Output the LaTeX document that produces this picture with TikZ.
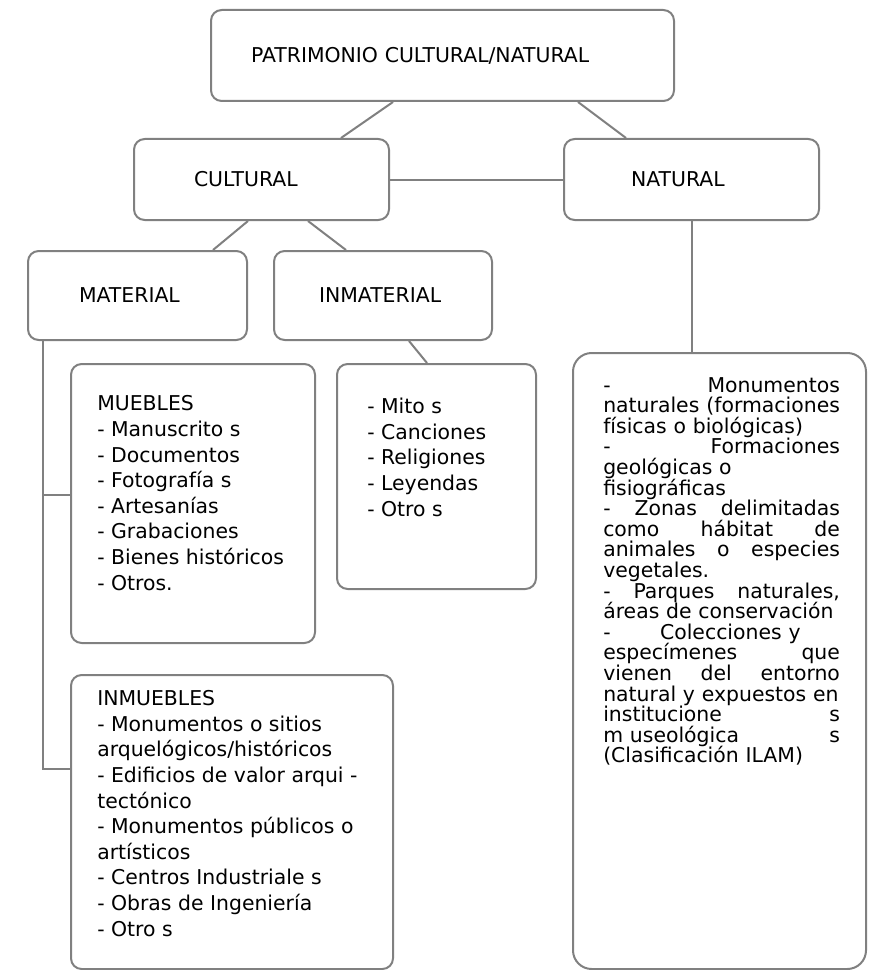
\documentclass[tikz,border=0pt]{standalone}
\usepackage{fontspec}
\setmainfont{DejaVu Sans}
\usepackage{tikz}
\usetikzlibrary{positioning,calc}
\definecolor{lineagris}{HTML}{808080}
\newcommand{\corrida}[2][177.5pt]{\makebox[#1][l]{#2}}
\newcommand{\letraNat}{\fontsize{15.3pt}{15.45pt}\selectfont\lineskiplimit=-5pt\relax}

\begin{document}
\begin{tikzpicture}[
    x=0.75pt, y=-0.75pt,
    caja/.style={rectangle, draw=lineagris, line width=1.5pt, rounded corners=8pt,
                 anchor=north west, inner ysep=0pt, align=left,
                 font=\fontsize{15.3pt}{19.2pt}\selectfont},
    lista/.style={anchor=base west, inner sep=0pt, align=left,
                  font=\fontsize{15.3pt}{19.2pt}\selectfont},
    conector/.style={draw=lineagris, line width=1.5pt}
]
    \useasboundingbox (0,0) rectangle (870,970);

    % Categorias
    \node[caja, minimum height=68.25pt, inner xsep=30pt, text width=287.25pt] (patrimonio) at (210,9) {PATRIMONIO CULTURAL/NATURAL};
    \node[caja, minimum height=60.75pt, inner xsep=45pt, text width=101.25pt] (cultural) at (133,138) {CULTURAL};
    \node[caja, minimum height=60.75pt, inner xsep=50.25pt, text width=90.75pt] (natural) at (563,138) {NATURAL};
    \node[caja, minimum height=66.75pt, inner xsep=38.25pt, text width=87.75pt] (material) at (27,250) {MATERIAL};
    \node[caja, minimum height=66.75pt, inner xsep=33.75pt, text width=96pt] (inmaterial) at (273,250) {INMATERIAL};

    % Cajas de listas
    \node[caja, minimum width=183pt, minimum height=209.25pt, inner sep=0pt] (muebles) at (70,363) {};
    \node[caja, minimum width=149.25pt, minimum height=168.75pt, inner sep=0pt] (mitos) at (336,363) {};
    \node[caja, minimum width=241.5pt, minimum height=220.5pt, inner sep=0pt] (inmuebles) at (70,674) {};
    \node[caja, minimum width=219.75pt, minimum height=462pt, inner sep=0pt, rounded corners=14pt] (naturaleza) at (572,352) {};

    % Textos de las listas (base = ultima linea)
    \node[lista] (mueblesTxt) at (97,590) {MUEBLES\\- Manuscrito s\\- Documentos\\- Fotografía s\\- Artesanías\\- Grabaciones\\- Bienes históricos\\- Otros.};
    \node[lista] (mitosTxt) at (367,516) {- Mito s\\- Canciones\\- Religiones\\- Leyendas\\- Otro s};
    \node[lista] (inmueblesTxt) at (97,936) {INMUEBLES\\- Monumentos o sitios\\arquelógicos/históricos\\- Edificios de valor arqui -\\tectónico\\- Monumentos públicos o\\artísticos\\- Centros Industriale s\\- Obras de Ingeniería\\- Otro s};
    \node[lista, text width=177.5pt, font=\letraNat] (naturalezaTxt) at (603,392) {%
        \corrida{-\hfill Monumentos}\\
        \corrida{naturales\hfill (formaciones}\\
        \mbox{físicas o biológicas)}\\
        \corrida{-\hfill Formaciones}\\
        \mbox{geológicas o}\\
        \mbox{fisiográficas}\\
        \corrida{-\hfill Zonas\hfill delimitadas}\\
        \corrida{como\hfill hábitat\hfill de}\\
        \corrida{animales\hfill o\hfill especies}\\
        \mbox{vegetales.}\\
        \corrida{-\hfill Parques\hfill naturales,}\\
        \mbox{áreas de conservación}\\
        \corrida[148pt]{-\hfill Colecciones y}\\
        \corrida{especímenes\hfill que}\\
        \corrida{vienen\hfill del\hfill entorno}\\
        \corrida{natural y expuestos en}\\
        \corrida{institucione\hfill s}\\
        \corrida{m useológica\hfill s}\\
        \mbox{(Clasificación ILAM)}};

    % Conectores
    \draw[conector] ($(patrimonio.south)+(-49.5,0)$) -- ($(cultural.north)+(79.5,0)$);
    \draw[conector] ($(patrimonio.south)+(135.5,0)$) -- ($(natural.north)+(-65.5,0)$);
    \draw[conector] (cultural.east) -- (natural.west);
    \draw[conector] ($(cultural.south)+(-13.5,0)$) -- ($(material.north)+(75.5,0)$);
    \draw[conector] ($(cultural.south)+(46.5,0)$) -- ($(inmaterial.north)+(-37,0)$);
    \draw[conector] ($(inmaterial.south)+(26,0)$) -- ($(mitos.north)+(-9.5,0)$);
    \draw[conector] (natural.south) -- (natural.south |- naturaleza.north);
    \coordinate (tronco) at ($(material.south)+(-94.5,0)$);
    \coordinate (ramaMuebles) at ($(muebles.north west)+(0,132)$);
    \coordinate (ramaInmuebles) at ($(inmuebles.north west)+(0,95)$);
    \draw[conector] (tronco) |- (ramaInmuebles);
    \draw[conector] (tronco |- ramaMuebles) -- (ramaMuebles);
\end{tikzpicture}
\end{document}
